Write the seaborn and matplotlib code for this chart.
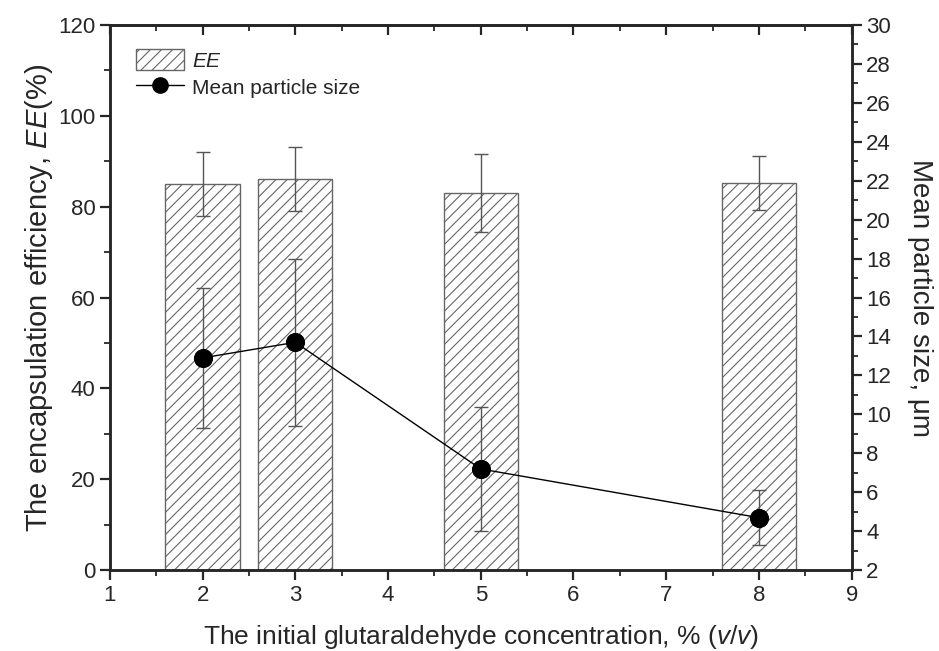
import numpy as np
import pandas as pd
import matplotlib
matplotlib.use("Agg")
import matplotlib.pyplot as plt
import seaborn as sns
from matplotlib.ticker import MultipleLocator
from matplotlib.patches import Patch
from matplotlib.lines import Line2D

# === data ===
conc = [2, 3, 5, 8]
ee = [85.0, 86.0, 83.0, 85.2]
ee_err = [7.0, 7.0, 8.5, 6.0]
size = [12.9, 13.7, 7.2, 4.7]
size_err = [3.6, 4.3, 3.2, 1.4]

sns.set_style("ticks")
plt.rcParams["font.family"] = ["Liberation Sans", "DejaVu Sans"]
plt.rcParams["mathtext.fontset"] = "custom"
plt.rcParams["mathtext.rm"] = "Liberation Sans"
plt.rcParams["mathtext.it"] = "Liberation Sans:italic"
plt.rcParams["hatch.color"] = "#777777"
plt.rcParams["hatch.linewidth"] = 0.8

fig = plt.figure(figsize=(9.39, 6.51), dpi=100)
ax = fig.add_axes([0.117, 0.124, 0.790, 0.838])

df = pd.DataFrame({"conc": conc, "ee": ee})
ax.bar(df["conc"], df["ee"], width=0.8, color="white", edgecolor="#666666",
       hatch="///", linewidth=1.0, zorder=2)
ax.errorbar(conc, ee, yerr=ee_err, fmt="none", ecolor="#555555",
            elinewidth=1.0, capsize=5, capthick=1.0, zorder=3)

ax.set_xlim(1, 9)
ax.set_ylim(0, 120)
ax.xaxis.set_major_locator(MultipleLocator(1))
ax.xaxis.set_minor_locator(MultipleLocator(0.5))
ax.yaxis.set_major_locator(MultipleLocator(20))
ax.yaxis.set_minor_locator(MultipleLocator(10))
ax.tick_params(which="major", direction="out", length=7, width=1.6, labelsize=16)
ax.tick_params(which="minor", direction="out", length=4, width=1.3)
for s in ax.spines.values():
    s.set_linewidth(1.8)

# top axis: inward ticks, no labels
top = ax.secondary_xaxis("top")
top.xaxis.set_major_locator(MultipleLocator(1))
top.xaxis.set_minor_locator(MultipleLocator(0.5))
top.tick_params(which="major", direction="in", length=7, width=1.6, labeltop=False)
top.tick_params(which="minor", direction="in", length=4, width=1.3)
top.spines["top"].set_linewidth(1.8)

ax.set_xlabel("The initial glutaraldehyde concentration, % ($\\it{v/v}$)", fontsize=19, labelpad=12)
ax.set_ylabel("The encapsulation efficiency, $\\it{EE}$(%)", fontsize=21, labelpad=2)

ax2 = ax.twinx()
sns.lineplot(x=conc, y=size, ax=ax2, color="black", linewidth=1.0,
             marker="o", markersize=13, markeredgecolor="black", zorder=4)
ax2.errorbar(conc, size, yerr=size_err, fmt="none", ecolor="#555555",
             elinewidth=1.0, capsize=5, capthick=1.0, zorder=3)
ax2.set_ylim(2, 30)
ax2.yaxis.set_major_locator(MultipleLocator(2))
ax2.yaxis.set_minor_locator(MultipleLocator(1))
ax2.tick_params(which="major", direction="out", length=7, width=1.6, labelsize=16)
ax2.tick_params(which="minor", direction="out", length=4, width=1.3)
ax2.set_ylabel("Mean particle size, μm", fontsize=20, rotation=270, labelpad=30)
for s in ax2.spines.values():
    s.set_linewidth(1.8)

handles = [
    Patch(facecolor="white", edgecolor="#666666", hatch="///", label="$\\it{EE}$"),
    Line2D([0], [0], color="black", linewidth=1.0, marker="o", markersize=11,
           label="Mean particle size"),
]
ax.legend(handles=handles, loc="upper left", bbox_to_anchor=(0.01, 0.99),
          frameon=False, fontsize=15, handlelength=2.3, handleheight=1.2,
          handletextpad=0.4, labelspacing=0.25)

fig.savefig("out.png", dpi=100)
